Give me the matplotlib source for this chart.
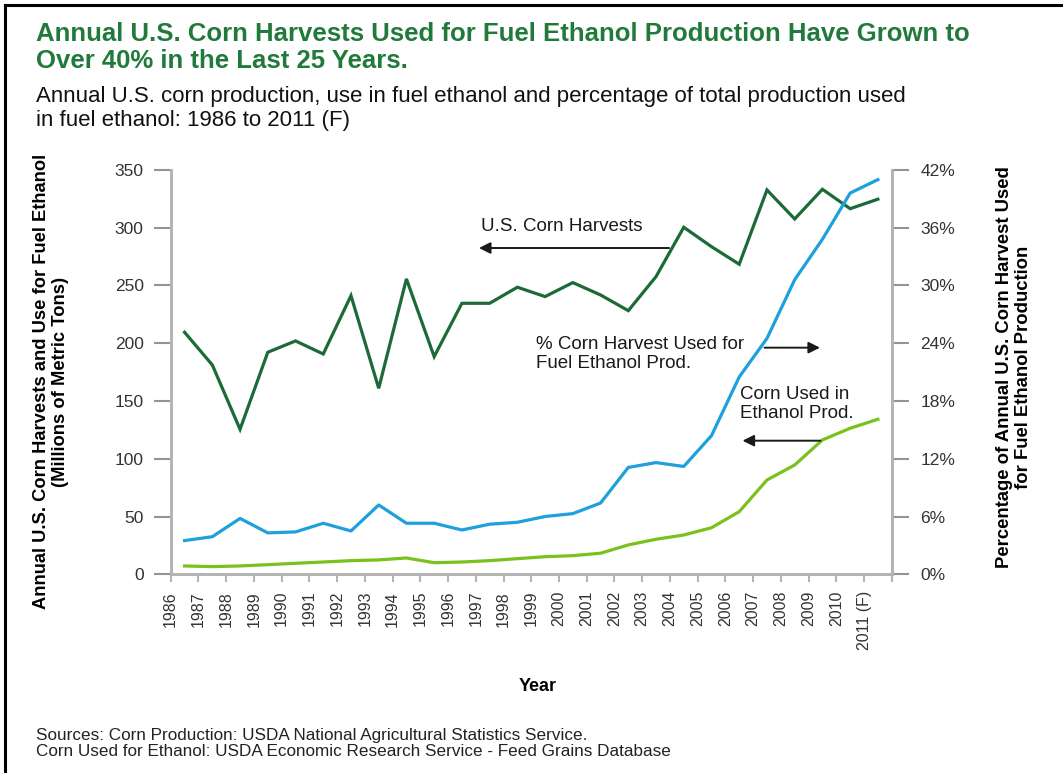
"""Corn harvests vs corn used for fuel ethanol, 1986-2011 (F)."""
import matplotlib
matplotlib.use("Agg")
import matplotlib.pyplot as plt
from matplotlib.lines import Line2D

plt.rcParams["font.family"] = ["Liberation Sans", "DejaVu Sans"]

TITLE_GREEN = "#217a3c"
HARVEST, PCT, ETHANOL = "#1c6a37", "#1ea0dc", "#7bc11c"
SPINE, TICK, LABEL = "#b4b4b4", "#8c9898", "#333333"

years = ["1986", "1987", "1988", "1989", "1990", "1991", "1992", "1993", "1994",
         "1995", "1996", "1997", "1998", "1999", "2000", "2001", "2002", "2003",
         "2004", "2005", "2006", "2007", "2008", "2009", "2010", "2011 (F)"]

# million metric tons
harvest = [209.5, 181.2, 125.5, 192.2, 202.0, 190.7, 241.2, 161.0, 255.7,
           188.4, 234.6, 234.6, 248.5, 240.4, 252.5, 241.8, 228.2, 257.7,
           300.4, 283.6, 268.4, 332.7, 307.6, 333.3, 316.5, 324.7]
ethanol = [7.2, 6.6, 7.2, 8.3, 9.5, 10.6, 11.8, 12.4, 14.1, 10.0, 10.6, 11.8,
           13.5, 15.2, 16.1, 18.2, 25.4, 30.3, 34.0, 40.3, 54.2, 81.6, 94.6,
           116.3, 126.4, 134.2]
# percent of harvest used for fuel ethanol (right axis)
pct = [3.5, 3.9, 5.8, 4.3, 4.4, 5.3, 4.5, 7.2, 5.3, 5.3, 4.6, 5.2, 5.4, 6.0,
       6.3, 7.4, 11.1, 11.6, 11.2, 14.4, 20.5, 24.5, 30.6, 34.8, 39.6, 41.0]

left_ticks = [0, 50, 100, 150, 200, 250, 300, 350]
right_ticks = [0, 6, 12, 18, 24, 30, 36, 42]

fig = plt.figure(figsize=(10.63, 7.73), dpi=100)
fig.patch.set_facecolor("white")

ax = fig.add_axes([0.1606, 0.2571, 0.6783, 0.5230])
ax2 = ax.twinx()

xs = [i + 0.5 for i in range(len(years))]      # points sit between year ticks
ax.plot(xs, harvest, color=HARVEST, linewidth=2.3, solid_joinstyle="miter")
ax.plot(xs, ethanol, color=ETHANOL, linewidth=2.3)
ax2.plot(xs, pct, color=PCT, linewidth=2.3)

ax.set_xlim(0, len(years))
ax.set_ylim(0, 350)
ax2.set_ylim(0, 42)

ax.set_xticks(range(len(years) + 1))
ax.set_xticklabels(years + [""], rotation=90, fontsize=11.5, color=LABEL)
ax.set_yticks(left_ticks)
ax.set_yticklabels([str(v) for v in left_ticks], fontsize=12.5, color=LABEL)
ax2.set_yticks(right_ticks)
ax2.set_yticklabels([f"{v}%" for v in right_ticks], fontsize=12.5, color=LABEL)

for a in (ax, ax2):
    a.spines["top"].set_visible(False)
    for s in ("left", "right", "bottom"):
        a.spines[s].set_color(SPINE)
        a.spines[s].set_linewidth(2)
ax.tick_params(axis="y", length=12.5, width=1.5, color=TICK, pad=7)
ax2.tick_params(axis="y", length=12.5, width=1.5, color=TICK, pad=8)
ax.tick_params(axis="x", length=6, width=1.5, color=SPINE, pad=6)

# annotations: labels with arrows pointing at the axis they use
INK = "#1a1a1a"
arrow = dict(arrowstyle="-|>", color=INK, lw=1.4, mutation_scale=17)
ax.annotate("", xy=(0.4236, 0.807), xytext=(0.695, 0.807),
            xycoords="axes fraction", arrowprops=arrow)
ax.text(0.43, 0.859, "U.S. Corn Harvests", transform=ax.transAxes,
        fontsize=13.5, color=INK, va="center")
ax.annotate("", xy=(0.9043, 0.5605), xytext=(0.8197, 0.5605),
            xycoords="axes fraction", arrowprops=arrow)
ax.text(0.507, 0.545, "% Corn Harvest Used for\nFuel Ethanol Prod.",
        transform=ax.transAxes, fontsize=13.5, color=INK, va="center",
        linespacing=1.12)
ax.annotate("", xy=(0.7892, 0.3304), xytext=(0.905, 0.3304),
            xycoords="axes fraction", arrowprops=arrow)
ax.text(0.789, 0.4212, "Corn Used in\nEthanol Prod.", transform=ax.transAxes,
        fontsize=13.5, color=INK, va="center", linespacing=1.12)

# titles, axis titles and source note
fig.text(0.034, 0.938, "Annual U.S. Corn Harvests Used for Fuel Ethanol Production Have Grown to\n"
         "Over 40% in the Last 25 Years.", fontsize=18.5, fontweight="bold",
         color=TITLE_GREEN, va="center", linespacing=1.16)
fig.text(0.034, 0.8596, "Annual U.S. corn production, use in fuel ethanol and percentage of total production used\n"
         "in fuel ethanol: 1986 to 2011 (F)", fontsize=16, color="#111111",
         va="center", linespacing=1.13)
fig.text(0.048, 0.506, "Annual U.S. Corn Harvests and Use for Fuel Ethanol\n(Millions of Metric Tons)",
         rotation=90, fontsize=13.2, fontweight="bold", ha="center", va="center",
         linespacing=1.2)
fig.text(0.954, 0.5246, "Percentage of Annual U.S. Corn Harvest Used\nfor Fuel Ethanol Production",
         rotation=90, fontsize=13.3, fontweight="bold", ha="center", va="center",
         linespacing=1.2)
fig.text(0.506, 0.112, "Year", fontsize=13, fontweight="bold", ha="center", va="center")
fig.text(0.034, 0.0385, "Sources: Corn Production: USDA National Agricultural Statistics Service.\n"
         "Corn Used for Ethanol: USDA Economic Research Service - Feed Grains Database",
         fontsize=12.3, color="#222222", va="center", linespacing=1.12)

# frame: top and left rules only
fig.add_artist(Line2D([0.005, 1.0], [0.9935, 0.9935], color="black", linewidth=2.2))
fig.add_artist(Line2D([0.005, 0.005], [0.0, 0.9935], color="black", linewidth=2.2))

fig.savefig("out.png", dpi=100, facecolor="white")
